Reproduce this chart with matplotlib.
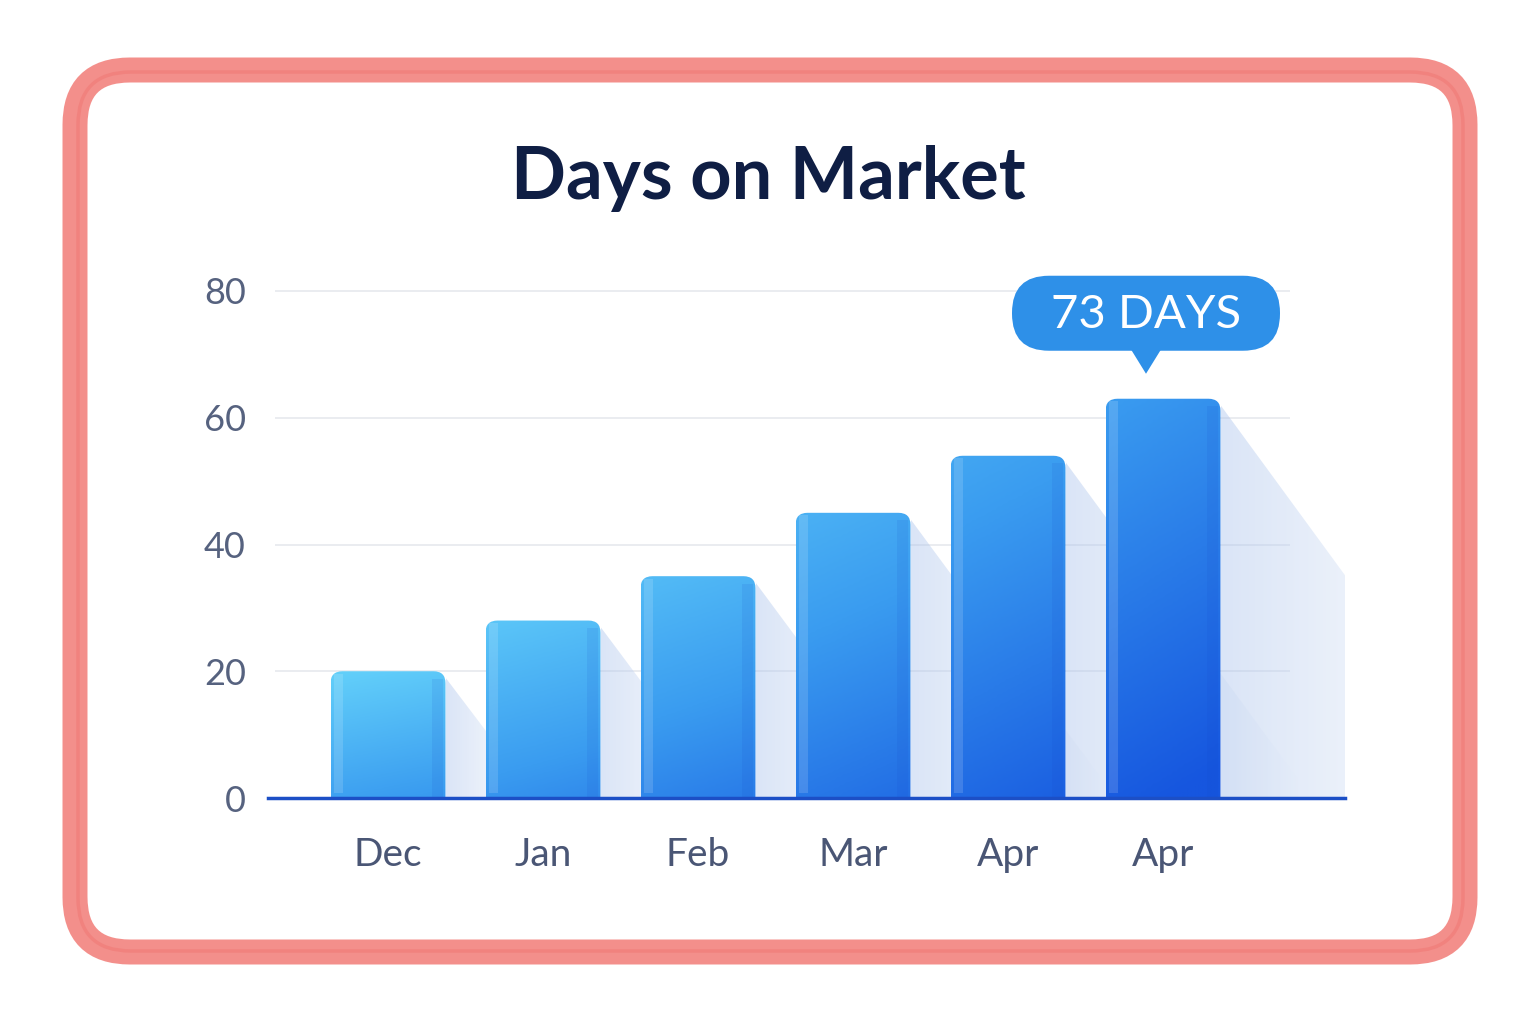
import numpy as np
import matplotlib
matplotlib.use('Agg')
import matplotlib.pyplot as plt
from matplotlib.patches import FancyBboxPatch, Polygon
from matplotlib.colors import LinearSegmentedColormap

# datos del grafico
months = ['Dec', 'Jan', 'Feb', 'Mar', 'Apr', 'Apr']
days = [20, 28, 35, 45, 54, 63]
yticks = [0, 20, 40, 60, 80]
callout_text = '73 DAYS'
title = 'Days on Market'

plt.rcParams['font.family'] = ['Lato', 'DejaVu Sans']

W, H = 1536, 1024
fig = plt.figure(figsize=(W / 100, H / 100), dpi=100)
fig.patch.set_facecolor('white')

# marco rojo dibujado a mano (capa de fondo en pixeles)
bg = fig.add_axes([0, 0, 1, 1])
bg.set_xlim(0, W)
bg.set_ylim(H, 0)
bg.axis('off')
frame = FancyBboxPatch((75, 70), 1390, 882, boxstyle='round,pad=0,rounding_size=55',
                       fill=False, ec='#F2807B', lw=18, alpha=0.88)
bg.add_patch(frame)
frame2 = FancyBboxPatch((78, 72), 1385, 879, boxstyle='round,pad=0,rounding_size=53',
                        fill=False, ec='#EE6A66', lw=2.5, alpha=0.35)
bg.add_patch(frame2)

# ejes del grafico
px_x = 155.0          # pixeles por categoria
px_y = 507 / 80.0     # pixeles por unidad
x0_px, x1_px = 268, 1345
ax = fig.add_axes([x0_px / W, 1 - 798 / H, (x1_px - x0_px) / W, (798 - 259) / H])
ax.patch.set_alpha(0)
for s in ax.spines.values():
    s.set_visible(False)

# lineas de la grilla
ax.hlines(yticks[1:], (275 - 388) / px_x, (1290 - 388) / px_x, color='#E6E9EE', lw=1.2, zorder=0)

cmap = LinearSegmentedColormap.from_list('azul', ['#63D0FA', '#3A9CF0', '#1656DF'])
shcmap = LinearSegmentedColormap.from_list('sombra', ['#A9C2EC', '#FFFFFF'])
aspect = px_x / px_y
bw = 115 / px_x
x = np.arange(len(days))

for i, v in enumerate(days):
    left = x[i] - bw / 2
    # sombra con degradado
    h_px = v * px_y
    reach = 0.72 * h_px / px_x
    sh = Polygon([(left + bw, v - 1), (left + bw + reach, 0), (left + bw, 0)],
                 closed=True, fc='none', ec='none', zorder=1)
    ax.add_patch(sh)
    g = np.linspace(0, 1, 60)[None, :] * np.ones((10, 1))
    simg = ax.imshow(g, cmap=shcmap, vmin=0, vmax=0.95, extent=(left + bw, left + bw + reach, 0, v),
                     aspect='auto', zorder=1, alpha=0.42, interpolation='bilinear')
    simg.set_clip_path(sh)
    patch = FancyBboxPatch((left, -3), bw, v + 3,
                           boxstyle='round,pad=0,rounding_size=%f' % (12 / px_x),
                           mutation_aspect=aspect, fc='none', ec='none', zorder=2)
    ax.add_patch(patch)
    yy = np.linspace(0, 1, 100)[:, None]
    xx = np.linspace(0, 1, 40)[None, :]
    t = 0.5 * (i / 5) + 0.45 * yy + 0.08 * xx
    img = ax.imshow(t, cmap=cmap, vmin=0, vmax=1, extent=(left, left + bw, 0, v),
                    aspect='auto', zorder=2, interpolation='bilinear')
    img.set_clip_path(patch)
    # brillo lateral
    ax.bar(left + 0.05, v - 1.2, width=0.06, bottom=0.8, color='white', alpha=0.14, zorder=3)
    ax.bar(left + bw - 0.05, v - 1.2, width=0.07, bottom=0, color='#1545C8', alpha=0.1, zorder=3)

ax.set_xlim((x0_px - 388) / px_x, (x1_px - 388) / px_x)
ax.set_ylim(0, 539 / px_y)

# linea base
ax.axhline(0, color='#1C4FC6', lw=2.5, zorder=4, clip_on=False)

ax.set_yticks(yticks)
ax.set_yticklabels([str(t) for t in yticks])
ax.set_xticks(x)
ax.set_xticklabels(months)
ax.tick_params(axis='y', length=0, pad=16, labelsize=26, labelcolor='#56627F')
ax.tick_params(axis='x', length=0, pad=28, labelsize=28, labelcolor='#4A5675')

# globo con la etiqueta
cx = x[-1] - 17 / px_x
vtop = days[-1]
bub_w = 268 / px_x
bub_b = vtop + 48 / px_y
bub_h = 75 / px_y
bubble = FancyBboxPatch((cx - bub_w / 2, bub_b), bub_w, bub_h,
                        boxstyle='round,pad=0,rounding_size=%f' % (37 / px_x),
                        mutation_aspect=aspect, fc='#2E90E8', ec='none', zorder=6, clip_on=False)
ax.add_patch(bubble)
tri = Polygon([(cx - 15 / px_x, bub_b + 0.2), (cx + 15 / px_x, bub_b + 0.2), (cx, vtop + 25 / px_y)],
              closed=True, fc='#2E90E8', ec='none', zorder=6, clip_on=False)
ax.add_patch(tri)
ax.text(cx, bub_b + bub_h / 2 - 0.3, callout_text, color='white', fontsize=34,
        ha='center', va='center', zorder=7)

# titulo
fig.text(0.5, 1 - 178 / H, title, ha='center', va='center', fontsize=52,
         fontweight='bold', color='#0F1E44')

fig.savefig('out.png', dpi=100)
